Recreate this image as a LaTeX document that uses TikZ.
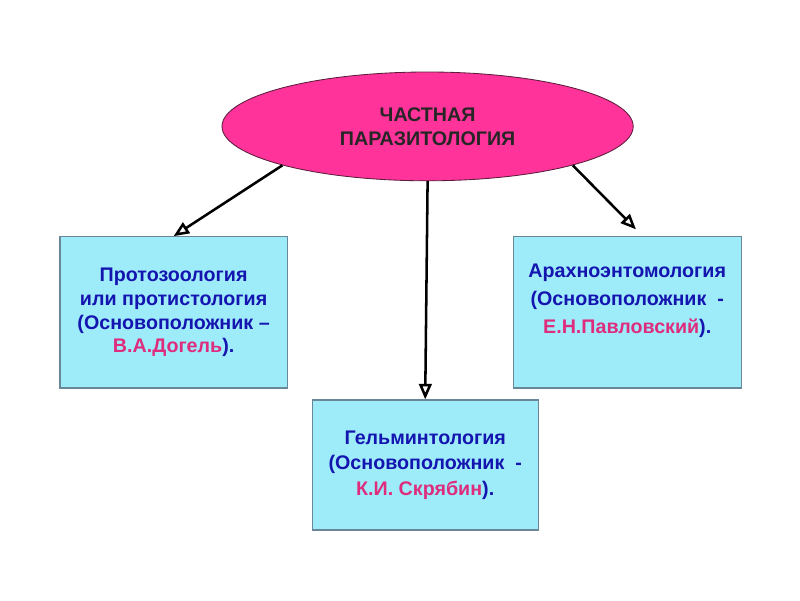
\documentclass[tikz,border=0pt]{standalone}
\usepackage{fontspec}
\setmainfont{Liberation Sans}
\usetikzlibrary{shapes.geometric,arrows.meta,positioning}
\definecolor{ovalpink}{RGB}{255,51,153}
\definecolor{ovalline}{RGB}{90,30,60}
\definecolor{boxcyan}{RGB}{158,236,250}
\definecolor{boxline}{RGB}{105,135,150}
\definecolor{textblue}{RGB}{20,20,175}
\definecolor{namepink}{RGB}{222,45,125}
\newcommand{\founder}[1]{\textcolor{namepink}{#1}}

\begin{document}
\begin{tikzpicture}[
		oval/.style={ellipse,draw=ovalline,fill=ovalpink,line width=0.6pt,minimum width=10.28cm,minimum height=2.72cm,inner sep=0pt,align=center,font=\bfseries\fontsize{14}{17}\selectfont,text=black!85},
		areabox/.style={rectangle,draw=boxline,fill=boxcyan,line width=0.9pt,align=center,font=\bfseries\fontsize{14}{17}\selectfont,text=textblue},
		boxtext/.style={align=center,font=\bfseries\fontsize{14}{20}\selectfont,text=textblue},
		link/.style={line width=1.8pt,-{Triangle[open,length=11pt,width=9pt]}}
	]
		\useasboundingbox (0,0) rectangle (20,15);
		% root
		\node[oval] (root) at (10.69,11.84) {ЧАСТНАЯ\\ПАРАЗИТОЛОГИЯ};
		% branches
		\node[areabox,minimum width=5.68cm,minimum height=3.78cm] (proto) at (4.34,7.19) {Протозоология\\или протистология\\(Основоположник –\\\founder{В.А.Догель}).};
		\node[areabox,minimum width=5.70cm,minimum height=3.78cm] (arach) at (15.68,7.19) {};
		\node[boxtext] (arachtext) at ([yshift=0.3cm]arach.center) {Арахноэнтомология\\(Основоположник\ \ -\\\founder{Е.Н.Павловский}).};
		\node[areabox,minimum width=5.65cm,minimum height=3.25cm,font=\bfseries\fontsize{14}{18}\selectfont] (helm) at (10.63,3.375) {Гельминтология\\(Основоположник\ \ -\\\founder{К.И. Скрябин}).};
		% arrows
		\draw[link] (root.195) -- (proto.north);
		\draw[link] (root.south) -- (helm.north);
		\draw[link] (root.345) -- ([xshift=0.22cm,yshift=0.17cm]arach.north);
\end{tikzpicture}
\end{document}
